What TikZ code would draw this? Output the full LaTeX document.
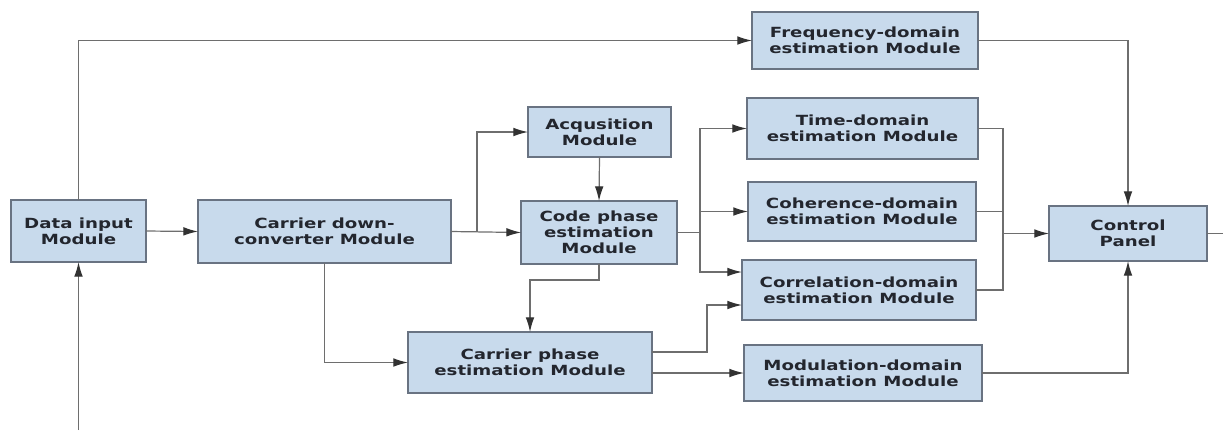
\documentclass[tikz,border=0pt]{standalone}
\usepackage{fontspec}
\usepackage{tikz}
\usepackage{xcolor}
\usetikzlibrary{arrows.meta,calc}

\newfontfamily\boxfont[FakeStretch=1.3]{DejaVu Sans}
\definecolor{boxfill}{RGB}{200,218,236}
\definecolor{boxline}{RGB}{105,115,130}
\definecolor{wire}{RGB}{110,110,110}
\definecolor{tip}{RGB}{50,50,50}
\definecolor{boxtext}{RGB}{35,38,46}

\tikzset{
  modbox/.style={draw=boxline,line width=0.8pt,fill=boxfill,inner sep=0pt,outer sep=0pt,
    align=center,text=boxtext,font=\boxfont\bfseries\fontsize{10.5}{11.8}\selectfont},
  line/.style={draw=wire,line width=0.9pt},
  conn/.style={line,-{Latex[length=11pt,width=6.5pt,color=tip]}}
}

\begin{document}
\begin{tikzpicture}[x=0.75pt,y=-0.75pt]
        \useasboundingbox (0,0) rectangle (1223,430);

        % Draw the modules
        \node[modbox,minimum width=101.25pt,minimum height=46.5pt] (datain) at (78.5,231) {Data input\\Module};
        \node[modbox,minimum width=189.75pt,minimum height=47.25pt] (downconv) at (324.5,231.5) {Carrier down-\\converter Module};
        \node[modbox,minimum width=107.25pt,minimum height=37.5pt] (acq) at (599.5,132) {Acqusition\\Module};
        \node[modbox,minimum width=117pt,minimum height=47.25pt] (codephase) at (599,232.5) {Code phase\\estimation\\Module};
        \node[modbox,minimum width=183pt,minimum height=45.75pt] (carrphase) at (530,362.5) {Carrier phase\\estimation Module};
        \node[modbox,minimum width=169.5pt,minimum height=42.75pt] (freqdom) at (865,40.5) {Frequency-domain\\estimation Module};
        \node[modbox,minimum width=173.25pt,minimum height=45.75pt] (timedom) at (862.5,128.5) {Time-domain\\estimation Module};
        \node[modbox,minimum width=171pt,minimum height=44.25pt] (coherdom) at (862,211.5) {Coherence-domain\\estimation Module};
        \node[modbox,minimum width=175.5pt,minimum height=45pt] (corrdom) at (859,290) {Correlation-domain\\estimation Module};
        \node[modbox,minimum width=178.5pt,minimum height=42pt] (moddom) at (863,373) {Modulation-domain\\estimation Module};
        \node[modbox,minimum width=118.5pt,minimum height=41.25pt] (panel) at (1128,233.5) {Control\\Panel};

        % Free ends and branch points
        \coordinate (feedin) at (78.5,430);
        \coordinate (panelout) at (1223,233.5);
        \coordinate (busc) at (700,232.5);
        \coordinate (busr) at (1003,233.5);

        % Input side
        \draw[conn] (feedin) -- (datain.south);
        \draw[conn] (datain.north) |- (freqdom.west);
        \draw[conn] (datain.east) -- (downconv.west);
        \draw[conn] (downconv.east) -- (codephase.west);
        \draw[conn] (downconv.east) -- ++(26,0) |- (acq.west);
        \draw[conn] (downconv.south) |- (carrphase.west);
        \draw[conn] (acq.south) -- (codephase.north);
        \draw[conn] (codephase.south) -- ++(0,16) -| (carrphase.north);

        % Estimation modules
        \draw[line] (codephase.east) -- (busc);
        \draw[conn] (busc) |- (timedom.west);
        \draw[conn] (busc) |- (coherdom.west);
        \draw[conn] (busc) |- ($(corrdom.west)+(0,-18)$);
        \draw[conn] ($(carrphase.east)+(0,-10.5)$) -- ++(55,0) |- ($(corrdom.west)+(0,15)$);
        \draw[conn] ($(carrphase.east)+(0,10.5)$) -- (moddom.west);

        % Into the control panel
        \draw[line] (timedom.east) -- (timedom.east -| busr) -- (corrdom.east -| busr) -- (corrdom.east);
        \draw[line] (coherdom.east) -- (coherdom.east -| busr);
        \draw[conn] (busr) -- (panel.west);
        \draw[conn] (freqdom.east) -| (panel.north);
        \draw[conn] (moddom.east) -| (panel.south);
        \draw[line] (panel.east) -- (panelout);
    \end{tikzpicture}
\end{document}
